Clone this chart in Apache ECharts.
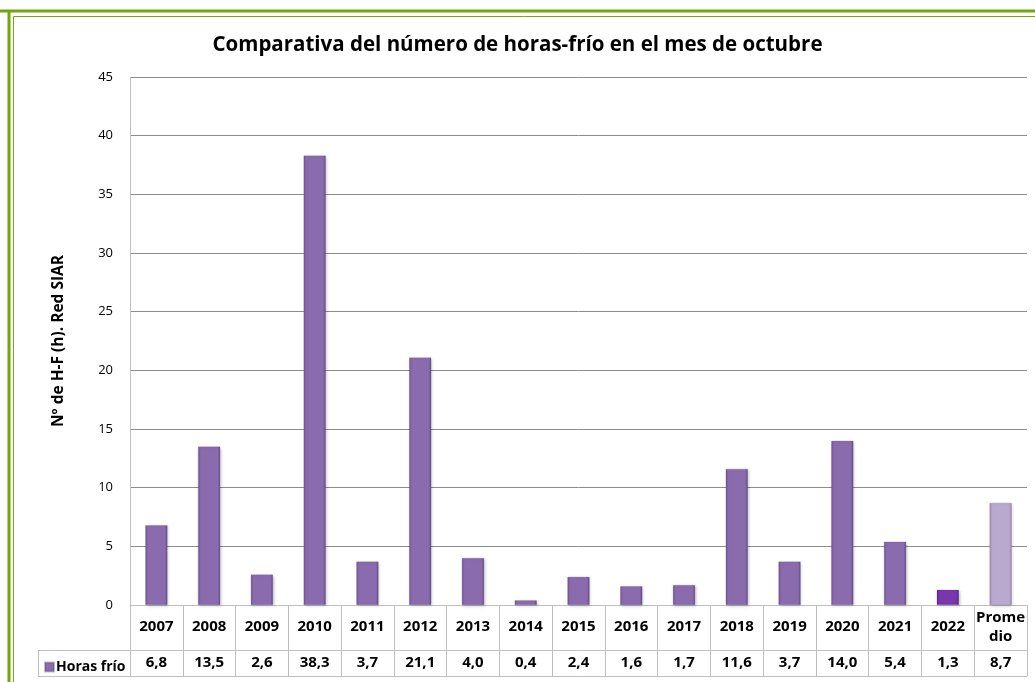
<!DOCTYPE html>
<html>
<head>
<meta charset="utf-8">
<script src="https://cdn.jsdelivr.net/npm/echarts@6/dist/echarts.min.js"></script>
<style>html,body{margin:0;padding:0;background:#fff;}#c{width:1035px;height:682px;}</style>
</head>
<body>
<div id="c"></div>
<script>
var categories = ['2007','2008','2009','2010','2011','2012','2013','2014','2015','2016','2017','2018','2019','2020','2021','2022','Prome\ndio'];
var horasFrio = [6.8, 13.5, 2.6, 38.3, 3.7, 21.1, 4.0, 0.4, 2.4, 1.6, 1.7, 11.6, 3.7, 14.0, 5.4, 1.3, 8.7];
var seriesName = 'Horas frío';
var yTicks = [0, 45, 5];

var FONT = '"Open Sans", Lato, sans-serif';
function grad(c0, c1, c2) {
  return new echarts.graphic.LinearGradient(0, 0, 1, 0, [
    {offset: 0, color: c0}, {offset: 0.12, color: c1}, {offset: 0.88, color: c1}, {offset: 1, color: c2}
  ]);
}
var normal = grad('#6e5494', '#8a6cae', '#624b87');
var current = grad('#5e2690', '#7a36ad', '#52207f');
var average = grad('#9f8cb8', '#b9a9ce', '#9a88b2');
var last = horasFrio.length - 1;
var barData = horasFrio.map(function (v, i) {
  var c = i === last ? average : (i === last - 1 ? current : normal);
  return {value: v, itemStyle: {color: c}};
});
function fmt(v) { return v.toFixed(1).replace('.', ','); }

var chart = echarts.init(document.getElementById('c'));
var gridL = 130, gridR = 8, gridT = 77, gridB = 77;
var lineC = '#bfbfbf';
var green = '#72a60c';
chart.setOption({
  animation: false,
  title: {
    text: 'Comparativa del número de horas-frío en el mes de octubre',
    left: 'center', top: 30,
    textStyle: {fontFamily: FONT, fontSize: 20.5, fontWeight: 'bold', color: '#000'}
  },
  legend: {
    data: [seriesName], left: 39, top: 655, icon: 'rect', itemWidth: 9, itemHeight: 9, itemGap: 2,
    textStyle: {fontFamily: FONT, fontSize: 14, fontWeight: 'bold', color: '#000', padding: [0,0,0,-3]}
  },
  grid: {left: gridL, right: gridR, top: gridT, bottom: gridB},
  xAxis: [{
    type: 'category', data: categories, position: 'bottom',
    axisLine: {show: true, lineStyle: {color: lineC}},
    axisTick: {show: true, interval: 0, length: 71, lineStyle: {color: lineC}},
    axisLabel: {interval: 0, margin: 22, verticalAlign: 'middle', lineHeight: 19,
      fontFamily: FONT, fontSize: 15, fontWeight: 'bold', color: '#000'}
  }, {
    type: 'category', data: categories, position: 'bottom', offset: 45,
    axisLine: {show: true, lineStyle: {color: lineC}},
    axisTick: {show: false},
    axisLabel: {interval: 0, margin: 13, verticalAlign: 'middle',
      fontFamily: FONT, fontSize: 15, fontWeight: 'bold', color: '#000',
      formatter: function (v, i) { return fmt(horasFrio[i]); }}
  }, {
    type: 'category', data: categories, position: 'bottom', offset: 71,
    axisLine: {show: true, lineStyle: {color: lineC}},
    axisTick: {show: false}, axisLabel: {show: false}
  }],
  yAxis: {
    type: 'value', min: yTicks[0], max: yTicks[1], interval: yTicks[2],
    name: 'Nº de H-F (h). Red SIAR', nameLocation: 'middle', nameGap: 63,
    nameTextStyle: {fontFamily: FONT, fontSize: 15.5, fontWeight: 'bold', color: '#000'},
    axisLine: {show: true, lineStyle: {color: lineC}},
    axisTick: {show: false},
    axisLabel: {margin: 17, fontFamily: FONT, fontSize: 13, color: '#000'},
    splitLine: {lineStyle: {color: '#8c8c8c'}}
  },
  series: [{
    name: seriesName, type: 'bar', data: barData, barWidth: '42%',
    itemStyle: {color: normal, borderColor: 'rgba(80,60,110,0.35)', borderWidth: 0.5,
      shadowColor: 'rgba(0,0,0,0.25)', shadowBlur: 3, shadowOffsetX: 1, shadowOffsetY: 1}
  }],
  graphic: [
    {type: 'line', shape: {x1: 38, y1: 650.5, x2: gridL, y2: 650.5}, style: {stroke: lineC, lineWidth: 1}},
    {type: 'line', shape: {x1: 38, y1: 676.5, x2: gridL, y2: 676.5}, style: {stroke: lineC, lineWidth: 1}},
    {type: 'line', shape: {x1: 38.5, y1: 650, x2: 38.5, y2: 677}, style: {stroke: lineC, lineWidth: 1}},
    {type: 'line', shape: {x1: 0, y1: 11, x2: 1035, y2: 11}, style: {stroke: green, lineWidth: 3}},
    {type: 'line', shape: {x1: 9, y1: 11, x2: 9, y2: 682}, style: {stroke: green, lineWidth: 3}},
    {type: 'line', shape: {x1: 13.5, y1: 16.5, x2: 1035, y2: 16.5}, style: {stroke: green, lineWidth: 1}},
    {type: 'line', shape: {x1: 13.5, y1: 16.5, x2: 13.5, y2: 682}, style: {stroke: green, lineWidth: 1}}
  ]
});
</script>
</body>
</html>
